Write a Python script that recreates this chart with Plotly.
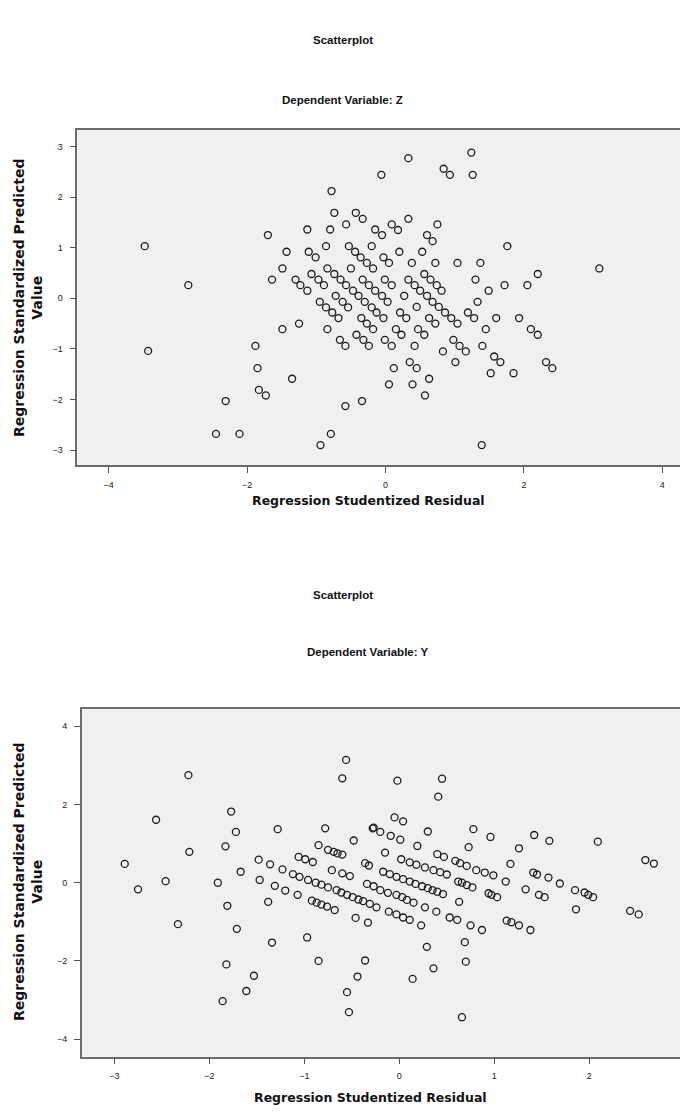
import plotly.graph_objects as go

# ---------------- data: Dependent Variable Z ----------------
z_resid = [
    -3.48, -2.85, -1.70, -0.78, -0.74, -0.43, -0.33, -0.57, -1.13, -0.80,
    -0.15, -0.06, -1.43, -1.11, -1.01, -0.86, -0.53, -0.44, -0.36, -0.27,
    -0.20, -0.18, -1.49, -1.64, -1.30, -1.23, -1.13, -1.07, -0.97, -0.89,
    -0.84, -0.74, -0.65, -0.57, -0.47, -0.39, -0.50, -0.33, -0.24, -0.15,
    -0.72, -0.62, -0.54, -0.95, -0.86, -0.30, -0.20, -3.43, -1.88, -1.85,
    -1.83, -1.73, -2.31, -2.45, -2.11, -1.49, -1.25, -1.35, -0.84, -0.66,
    -0.58, -0.42, -0.32, -0.24, -0.35, -0.27, -0.18, -0.77, -0.68, -0.13,
    -0.58, -0.34, -0.79, -0.94, 1.39, -0.05, 0.03, 0.27, 0.50, 0.60,
    0.68, 0.77, 0.86, 0.95, 1.04, 0.81, 1.49, 1.33, 1.19, 1.28,
    1.60, 1.93, 1.45, 2.10, 2.20, 1.40, 1.57, 1.66, 1.52, 1.85,
    2.32, 2.41, -0.03, -0.01, 0.09, 0.15, 0.23, 0.21, 0.30, 0.45,
    0.47, 0.56, 0.42, 0.63, 0.72, 0.98, 1.07, 1.16, 0.83, 1.01,
    0.35, 0.45, 0.12, 0.05, 0.39, 0.63, 0.57, 0.33, 0.84, 0.93,
    1.24, 1.26, 0.33, 0.09, 0.18, -0.05, 0.75, 0.60, 0.68, 0.20,
    0.53, -0.03, 0.05, 0.38, 0.72, 1.04, 1.37, 1.76, 3.09, 2.20,
    2.05, 1.72, 1.30, -0.01, 0.09, 0.33, 0.42, 0.56, 0.65, 0.74,
]
z_pred = [
    1.03, 0.26, 1.25, 2.12, 1.69, 1.69, 1.57, 1.46, 1.36, 1.36,
    1.36, 2.44, 0.92, 0.92, 0.81, 1.03, 1.03, 0.92, 0.81, 0.70,
    1.03, 0.59, 0.59, 0.37, 0.37, 0.26, 0.15, 0.48, 0.37, 0.26,
    0.59, 0.48, 0.37, 0.26, 0.15, 0.05, 0.59, 0.37, 0.26, 0.15,
    0.05, -0.07, -0.18, -0.07, -0.18, -0.07, -0.18, -1.04, -0.94, -1.38,
    -1.81, -1.92, -2.03, -2.68, -2.68, -0.61, -0.50, -1.59, -0.61, -0.82,
    -0.94, -0.72, -0.82, -0.94, -0.39, -0.50, -0.61, -0.28, -0.39, -0.28,
    -2.13, -2.03, -2.68, -2.90, -2.90, 0.05, -0.07, 0.05, 0.15, 0.05,
    -0.07, -0.17, -0.28, -0.39, -0.50, 0.15, 0.15, -0.07, -0.28, -0.39,
    -0.39, -0.39, -0.61, -0.61, -0.72, -0.94, -1.15, -1.26, -1.48, -1.48,
    -1.26, -1.38, -0.39, -0.82, -0.94, -0.61, -0.72, -0.28, -0.39, -0.17,
    -0.61, -0.72, -0.94, -0.39, -0.50, -0.82, -0.94, -1.05, -1.05, -1.26,
    -1.26, -1.38, -1.38, -1.70, -1.70, -1.59, -1.92, 2.77, 2.56, 2.44,
    2.88, 2.44, 1.57, 1.46, 1.35, 1.25, 1.46, 1.25, 1.13, 0.92,
    0.92, 0.81, 0.70, 0.70, 0.70, 0.70, 0.70, 1.03, 0.59, 0.48,
    0.26, 0.26, 0.37, 0.37, 0.26, 0.37, 0.26, 0.48, 0.37, 0.26,
]

# ---------------- data: Dependent Variable Y ----------------
y_resid = [
    -0.56, -0.60, -2.22, -2.56, -1.77, -1.72, -1.83, -2.21, -2.89, -1.28,
    -0.78, -0.48, -0.85, -0.75, -0.69, -0.65, -0.60, -0.28, -1.48, -1.36,
    -1.23, -1.06, -0.99, -0.91, -1.67, -0.71, -0.60, -0.52, -0.36, -0.32,
    -0.02, 0.45, 0.41, -0.05, 0.04, -0.27, -0.20, -0.09, 0.01, 0.30,
    0.78, 0.96, 0.19, 0.73, 1.26, 1.42, 1.58, 2.09, 2.59, 2.68,
    -0.15, 0.02, 0.11, 0.18, 0.27, 0.36, 0.43, 0.50, 0.40, 0.47,
    0.59, 0.64, 0.71, 0.81, 0.90, 0.99, 1.17, 1.41, 1.45, 1.57,
    -0.17, -0.10, -0.03, 0.04, 0.11, 0.17, 0.24, 0.30, 0.35, 0.40,
    0.46, -1.12, -1.05, -0.96, -0.88, -0.82, -0.75, -0.66, -0.61, -0.55,
    -0.49, -0.43, -0.38, -0.31, -0.24, -0.92, -0.87, -0.82, -0.76, -0.68,
    -0.46, -0.33, -1.31, -1.20, -1.07, -1.38, -1.34, -0.97, -0.85, -1.82,
    -1.53, -1.61, -1.86, -0.36, -0.44, -0.55, -0.53, -2.75, -2.46, -2.33,
    -1.91, -1.81, -1.71, -1.47, -0.34, -0.27, -0.20, -0.12, -0.03, 0.03,
    0.08, 0.15, 0.27, 0.39, -0.11, -0.03, 0.04, 0.11, 0.66, 0.14,
    0.36, 0.29, 0.70, 0.69, 0.23, 0.75, 0.87, 0.53, 0.61, 0.63,
    1.13, 1.18, 1.26, 1.38, 1.86, 2.43, 2.52, 1.69, 1.85, 1.95,
    1.99, 2.04, 1.33, 1.47, 1.53, 1.12, 0.94, 0.97, 1.03, 0.62,
    0.66, 0.71, 0.77,
]
y_pred = [
    3.14, 2.67, 2.75, 1.61, 1.82, 1.30, 0.93, 0.79, 0.48, 1.37,
    1.39, 1.08, 0.96, 0.84, 0.79, 0.75, 0.72, 1.39, 0.59, 0.47,
    0.34, 0.66, 0.60, 0.53, 0.28, 0.32, 0.24, 0.17, 0.50, 0.44,
    2.61, 2.66, 2.20, 1.67, 1.57, 1.41, 1.30, 1.20, 1.10, 1.31,
    1.37, 1.17, 0.94, 0.91, 0.88, 1.22, 1.07, 1.05, 0.58, 0.49,
    0.77, 0.60, 0.52, 0.46, 0.39, 0.32, 0.27, 0.21, 0.73, 0.66,
    0.56, 0.50, 0.43, 0.32, 0.26, 0.19, 0.48, 0.26, 0.21, 0.13,
    0.28, 0.22, 0.15, 0.09, 0.03, -0.03, -0.09, -0.14, -0.19, -0.23,
    -0.29, 0.22, 0.15, 0.07, 0.00, -0.05, -0.12, -0.19, -0.25, -0.31,
    -0.37, -0.43, -0.47, -0.54, -0.63, -0.46, -0.51, -0.56, -0.61, -0.70,
    -0.90, -1.02, -0.08, -0.20, -0.31, -0.49, -1.53, -1.40, -2.00, -2.09,
    -2.38, -2.77, -3.03, -1.99, -2.40, -2.80, -3.31, -0.17, 0.04, -1.06,
    0.00, -0.59, -1.18, 0.07, -0.03, -0.09, -0.19, -0.26, -0.31, -0.37,
    -0.44, -0.51, -0.63, -0.74, -0.74, -0.81, -0.89, -0.95, -3.44, -2.46,
    -2.19, -1.64, -2.02, -1.52, -1.09, -1.09, -1.21, -0.89, -0.95, -0.49,
    -0.97, -1.01, -1.09, -1.21, -0.68, -0.72, -0.81, -0.02, -0.19, -0.25,
    -0.31, -0.37, -0.17, -0.31, -0.37, 0.03, -0.27, -0.31, -0.37, 0.03,
    0.00, -0.06, -0.12,
]

z_ticks = [-4, -2, 0, 2, 4]
z_yticks = [-3, -2, -1, 0, 1, 2, 3]
y_ticks = [-3, -2, -1, 0, 1, 2, 3]
y_yticks = [-4, -2, 0, 2, 4]

# ---------------- layout helpers (page pixel -> paper) ----------------
# the page body adds an 8px margin, so the figure is drawn 8px in from the corner
PAGE_W, PAGE_H, OFF = 688, 1112, 8
W, H = PAGE_W - OFF, PAGE_H - OFF
def px(x):
    return (x - OFF) / W
def py(y):
    return 1 - (y - OFF) / H

FONT = "Liberation Sans, Arial, sans-serif"
WIDE = "DejaVu Sans, Verdana, sans-serif"
marker = dict(symbol="circle-open", size=7, color="#1b1b1b", line=dict(width=1.3))

fig = go.Figure()
fig.add_trace(go.Scatter(x=z_resid, y=z_pred, mode="markers", marker=marker,
                         xaxis="x", yaxis="y", showlegend=False, hoverinfo="skip"))
fig.add_trace(go.Scatter(x=y_resid, y=y_pred, mode="markers", marker=marker,
                         xaxis="x2", yaxis="y2", showlegend=False, hoverinfo="skip"))

axis_common = dict(showgrid=False, zeroline=False, showline=True, linecolor="#6b6b6b",
                   linewidth=1.5, ticks="outside", ticklen=6, tickwidth=1.2,
                   tickcolor="#555555", tickfont=dict(family=FONT, size=9, color="#222222"))

fig.update_layout(
    width=W, height=H, margin=dict(l=0, r=0, t=0, b=0),
    paper_bgcolor="white", plot_bgcolor="#F0F0F0",
    xaxis=dict(domain=[px(77.3), 1], anchor="y", range=[-4.454, 4.371],
               tickvals=z_ticks, mirror=True, ticklabelstandoff=4, **axis_common),
    yaxis=dict(domain=[py(465), py(130)], anchor="x", range=[-3.294, 3.326],
               tickvals=z_yticks, ticklabelstandoff=5, **axis_common),
    xaxis2=dict(domain=[px(81.7), 1], anchor="y2", range=[-3.343, 3.039],
                tickvals=y_ticks, mirror=True, ticklabelstandoff=4, **axis_common),
    yaxis2=dict(domain=[py(1056.7), py(709.3)], anchor="x2", range=[-4.450, 4.435],
                tickvals=y_yticks, ticklabelstandoff=5, **axis_common),
)

def label(text, x, y, size=13, angle=0, family=FONT):
    fig.add_annotation(text=text, x=px(x), y=py(y), xref="paper", yref="paper",
                       showarrow=False, textangle=angle, xanchor="center", yanchor="middle",
                       font=dict(family=family, size=size, color="#111111"))

label("<b>Scatterplot</b>", 343, 40, size=11.5)
label("<b>Dependent Variable: Z</b>", 342, 100, size=11.5)
label("<b>Regression Studentized Residual</b>", 368, 500, size=12.5, family=WIDE)
label("<b>Regression Standardized Predicted<br>Value</b>", 28, 298, size=14, angle=-90, family=WIDE)

label("<b>Scatterplot</b>", 343, 595, size=11.5)
label("<b>Dependent Variable: Y</b>", 368, 652, size=11.5)
label("<b>Regression Studentized Residual</b>", 370, 1097, size=12.5, family=WIDE)
label("<b>Regression Standardized Predicted<br>Value</b>", 28, 882, size=14, angle=-90, family=WIDE)

fig.write_html("out.html")
